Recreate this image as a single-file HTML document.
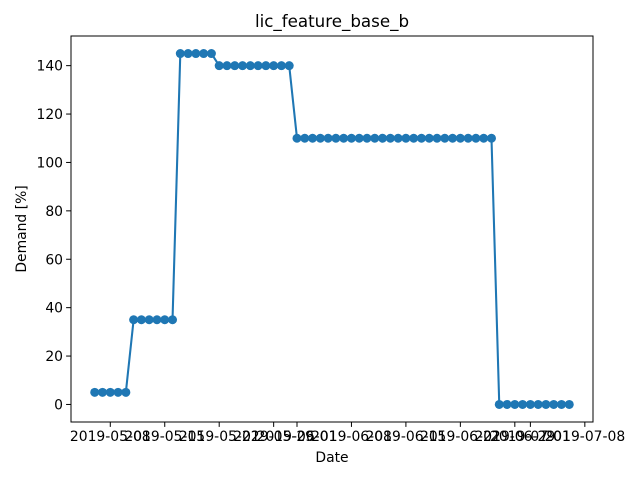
<!DOCTYPE html>
<html><head><meta charset="utf-8"><style>
body{margin:0;background:#fff}
svg text{font-family:"DejaVu Sans","Liberation Sans",sans-serif;fill:#000}
</style></head><body>
<svg id="chart" width="640" height="480" xmlns="http://www.w3.org/2000/svg">
<rect width="640" height="480" fill="#fff"/>
<text x="332" y="27" font-size="16.7" text-anchor="middle">lic_feature_base_b</text>
<text x="332" y="462" font-size="13.9" text-anchor="middle">Date</text>
<text transform="translate(26,229) rotate(-90)" font-size="13.9" text-anchor="middle">Demand [%]</text>
<g id="grid"></g>
<g id="series"></g>
<rect x="71" y="36" width="522" height="386" fill="none" stroke="#000" stroke-width="1"/>
</svg>
<script>
const segmentValues = [5, 35, 145, 140, 110, 0];
const segmentDays = [5, 6, 5, 10, 26, 10];
const xTickLabels = ["2019-05-08","2019-05-15","2019-05-22","2019-05-29","2019-06-01","2019-06-08","2019-06-15","2019-06-22","2019-06-29","2019-07-01","2019-07-08"];
const xTickDays = [2, 9, 16, 23, 26, 33, 40, 47, 54, 56, 63];
const yTicks = [0, 20, 40, 60, 80, 100, 120, 140];

const NS = "http://www.w3.org/2000/svg";
const values = [];
segmentValues.forEach((v, i) => { for (let k = 0; k < segmentDays[i]; k++) values.push(v); });
const n = values.length;
const L = 71, R = 593, T = 36, B = 422;
const xmin = -(n - 1) * 0.05, xmax = (n - 1) * 1.05;
const vmax = Math.max(...values), vmin = Math.min(...values);
const ymin = vmin - (vmax - vmin) * 0.05, ymax = vmax + (vmax - vmin) * 0.05;
const xs = d => L + (d - xmin) / (xmax - xmin) * (R - L);
const ys = v => B - (v - ymin) / (ymax - ymin) * (B - T);
const g = document.getElementById("grid"), s = document.getElementById("series");
function mk(tag, attrs, parent) { const e = document.createElementNS(NS, tag); for (const k in attrs) e.setAttribute(k, attrs[k]); parent.appendChild(e); return e; }
xTickLabels.forEach((lab, i) => {
  const x = xs(xTickDays[i]);
  const t = mk("line", {x1: x, x2: x, y1: B, y2: B + 4.9, stroke: "#000", "stroke-width": 1}, g);
  
  
  const tx = mk("text", {x: x, y: B + 19, "font-size": 13.9, "text-anchor": "middle"}, g);
  tx.textContent = lab;
  
  
});
yTicks.forEach(v => {
  const y = ys(v);
  const t = mk("line", {x1: L - 4.9, x2: L, y1: y, y2: y, stroke: "#000", "stroke-width": 1}, g);
  
  
  const tx = mk("text", {x: L - 8, y: y + 5, "font-size": 13.9, "text-anchor": "end"}, g);
  tx.textContent = v;
  
  
});
const pts = values.map((v, i) => xs(i).toFixed(2) + "," + ys(v).toFixed(2)).join(" ");
const line = mk("polyline", {points: pts, fill: "none", stroke: "#1f77b4", "stroke-width": 2.08}, s);


values.forEach((v, i) => {
  const c = mk("circle", {cx: xs(i), cy: ys(v), r: 4.5, fill: "#1f77b4"}, s);
  
  
});
</script>
</body></html>
